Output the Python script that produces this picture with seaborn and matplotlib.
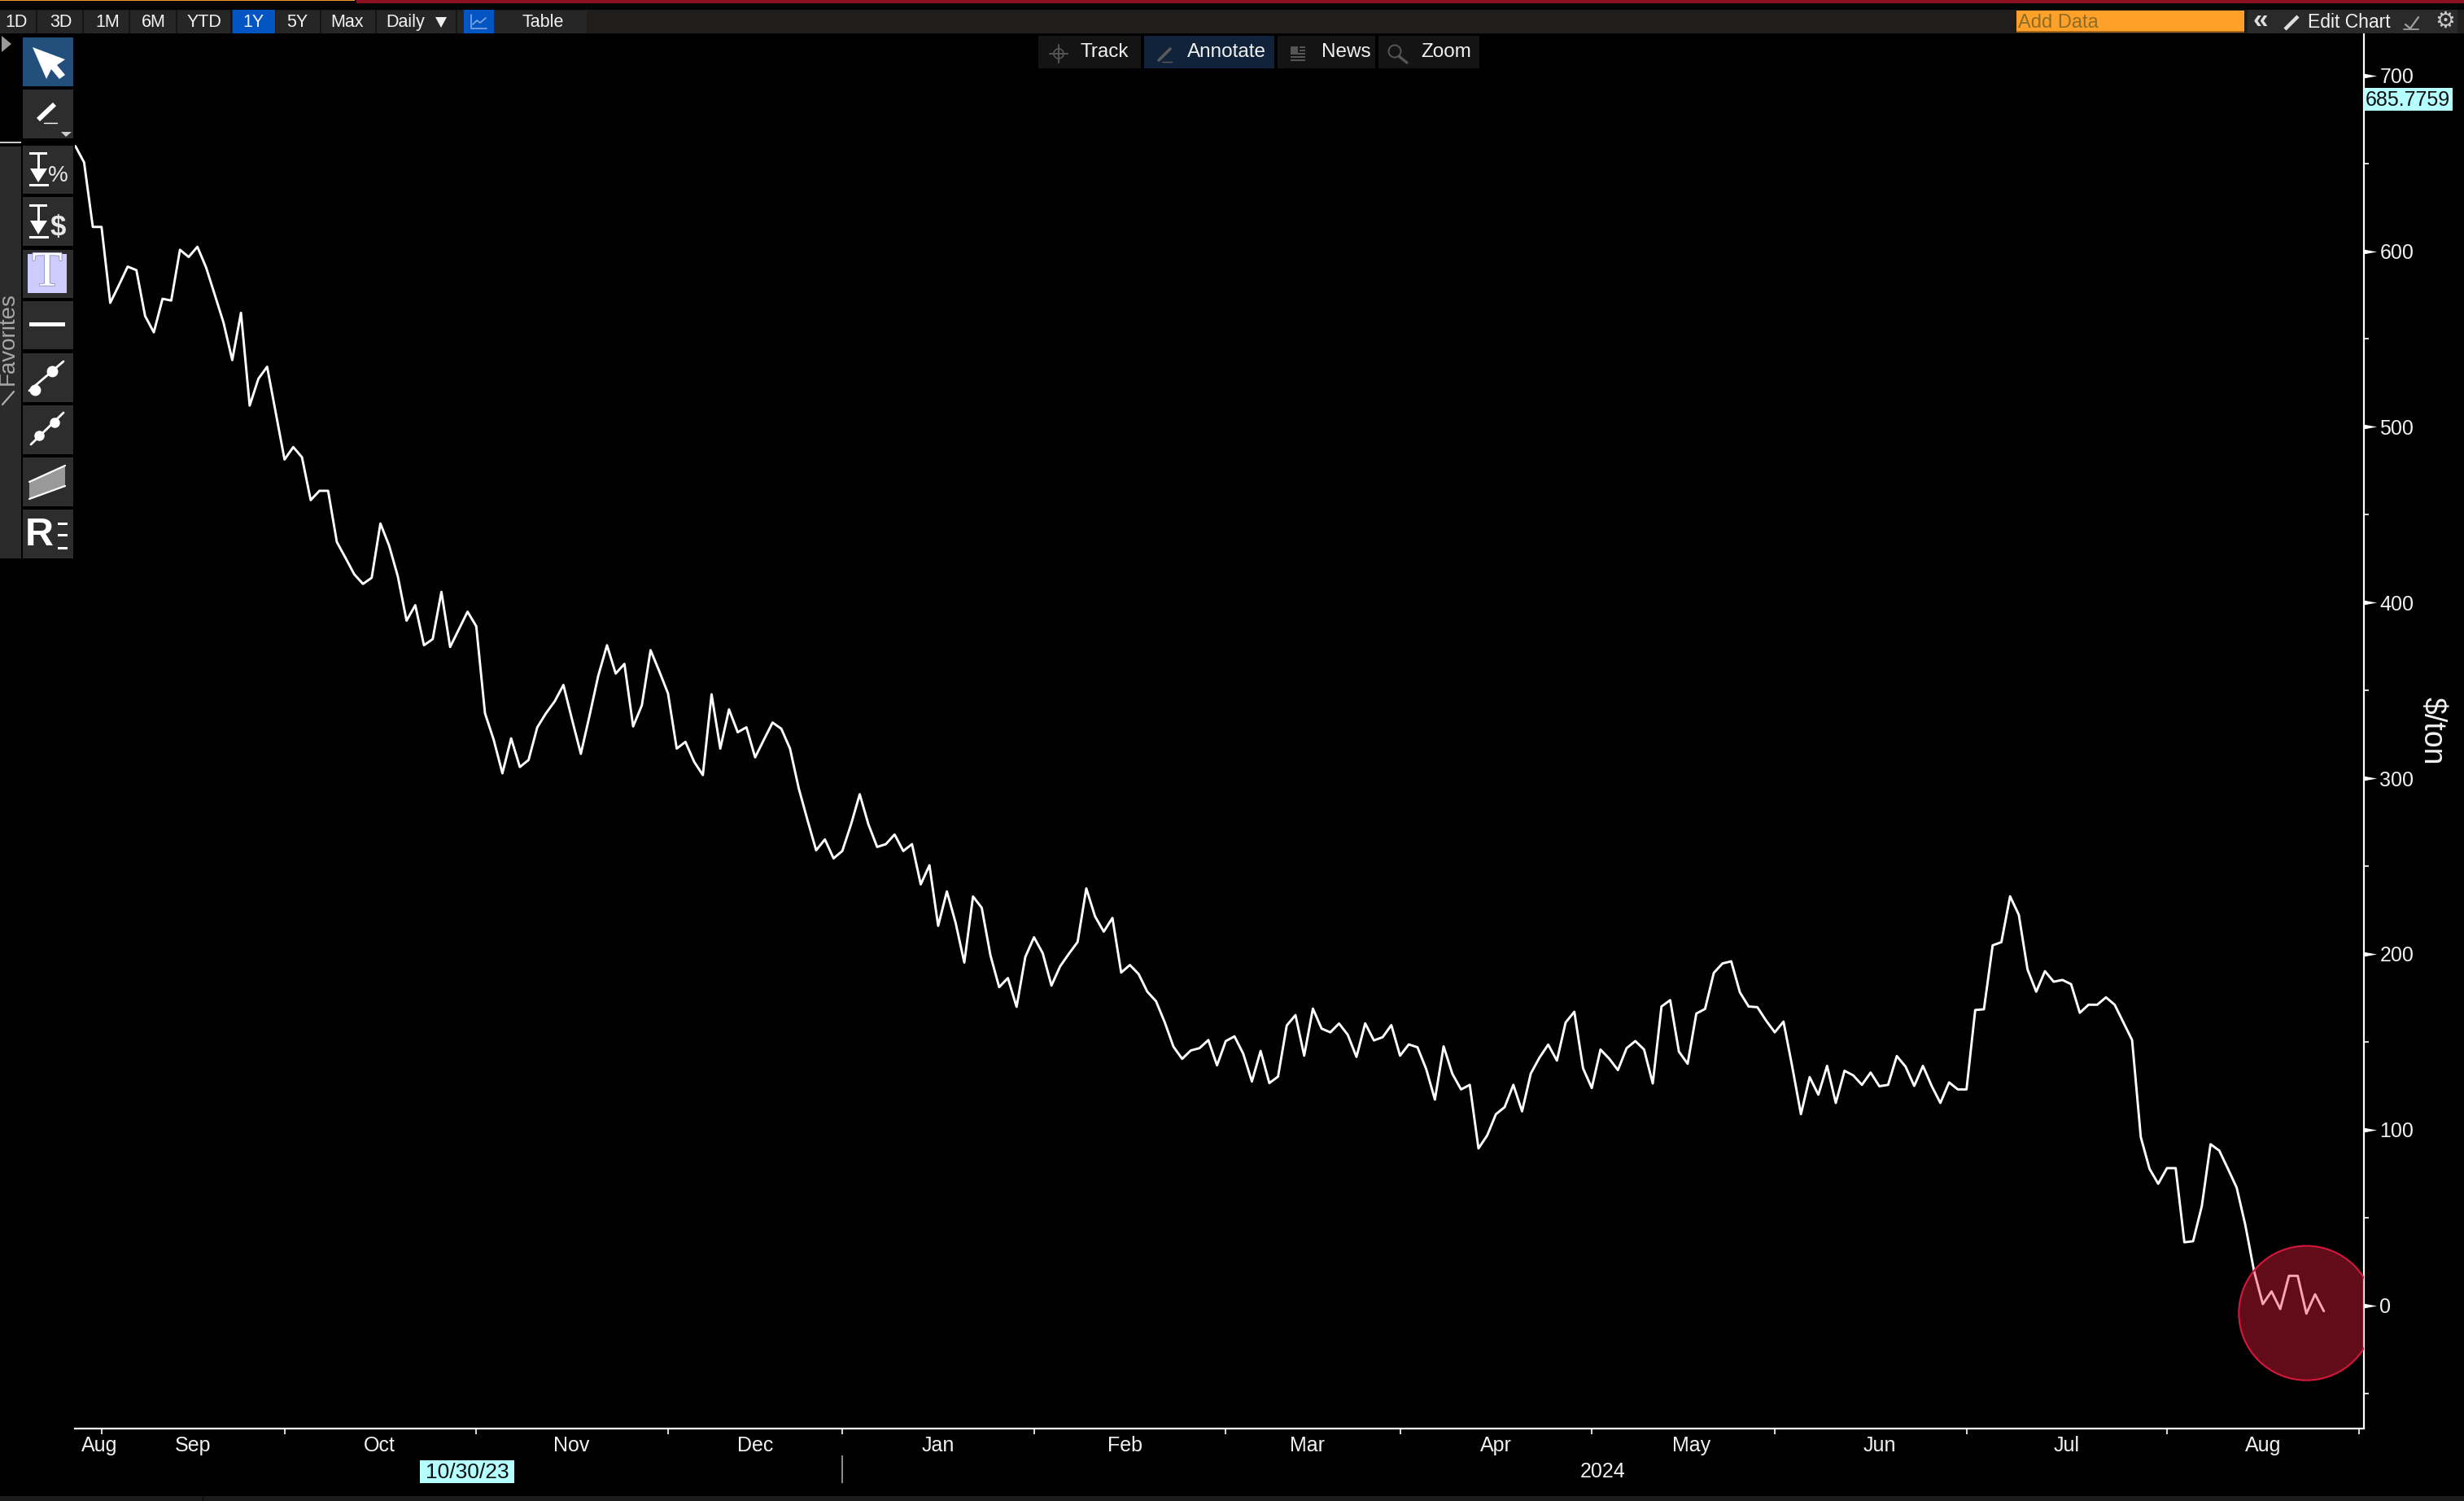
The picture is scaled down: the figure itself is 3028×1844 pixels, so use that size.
import matplotlib
matplotlib.use("Agg")

import matplotlib.patheffects as pe
import matplotlib.pyplot as plt
from matplotlib.patches import Ellipse, Polygon, Rectangle
from matplotlib.ticker import FixedLocator, MultipleLocator
import numpy as np
import pandas as pd
import seaborn as sns

# spread in $/ton, one value per trading day
spread_2023 = [
    659.8, 650.5, 613.8, 613.8, 570.6, 580.7, 591.2, 589.2, 563.1, 553.8,
    572.9, 571.9, 600.8, 596.7, 602.5, 590.7, 575.1, 559.3, 538.0, 564.9,
    512.1, 527.4, 534.2, 507.8, 481.4, 488.5, 482.7, 458.3, 463.6, 463.6,
    434.5, 425.4, 416.1, 410.6, 414.1, 445.0, 432.4, 414.9, 389.7, 398.5,
    375.7, 379.2, 406.1, 374.7, 384.7, 394.8, 386.5, 337.0, 321.9, 302.8,
    322.7, 306.4, 310.4, 329.0, 337.0, 343.8, 353.1, 333.2, 313.9, 335.7,
    358.4, 375.7, 359.6, 365.1, 329.5, 341.5, 372.9, 360.9, 348.3, 316.9,
    320.7, 309.4, 301.8, 347.8, 316.9, 339.2, 326.2, 329.0, 311.9, 321.9,
    331.7, 328.2, 316.9, 294.3, 276.3, 259.0, 265.2, 254.4,
]
spread_2024_h1 = [
    258.6, 273.7, 290.9, 273.7, 260.9, 262.5, 268.0, 258.6, 262.5, 239.6,
    250.5, 216.0, 235.6, 217.8, 195.1, 232.7, 226.3, 199.2, 181.1, 186.3,
    169.9, 198.3, 209.5, 200.4, 182.0, 193.0, 200.1, 206.8, 237.3, 221.4,
    212.7, 220.5, 189.4, 193.7, 188.6, 178.5, 173.1, 161.1, 147.2, 140.3,
    145.1, 146.4, 151.0, 136.6, 150.4, 153.1, 143.3, 127.4, 144.8, 126.5,
    130.2, 159.3, 165.2, 142.1, 168.9, 157.5, 155.4, 160.4, 154.0, 141.4,
    160.5, 150.8, 152.6, 159.5, 142.1, 148.5, 146.9, 134.5, 117.1, 147.4,
    131.8, 122.9, 125.5, 89.3, 96.7, 108.8, 112.8, 125.5, 110.4, 131.9,
    141.0, 148.4, 139.3, 161.0, 167.1, 134.9, 123.7, 145.6, 140.4, 133.9,
    146.4, 150.4, 145.6, 126.3, 170.1, 173.7, 144.4, 137.5, 166.1, 168.7,
    189.2, 194.6, 195.8, 178.1, 170.1, 169.7, 162.1, 155.4, 161.5, 135.9,
    108.8, 129.9, 119.9, 136.3, 115.2, 133.5, 130.9, 125.5, 132.5, 124.7,
    125.5, 141.9, 135.9, 124.9, 136.3, 124.9, 115.2, 126.9, 122.9, 122.9,
]
spread_2024_h2 = [
    168.1, 168.5, 204.9, 206.7, 232.8, 222.3, 191.2, 178.5, 190.2, 184.2,
    185.2, 182.8, 166.5, 171.1, 171.1, 175.3, 171.1, 161.0, 151.0, 95.7,
    77.7, 69.2, 78.1, 78.1, 35.9, 36.5, 56.5, 91.7, 88.1, 77.7,
    67.0, 45.5, 19.4, 0.7, 7.9, -2.1, 16.8, 16.8, -4.7, 6.3, -3.3,
]

month_names = ["Aug", "Sep", "Oct", "Nov", "Dec", "Jan", "Feb", "Mar", "Apr", "May", "Jun", "Jul", "Aug"]
month_starts = [3, 24, 46, 68, 88, 110, 132, 152, 174, 195, 217, 240, 262]
month_centers = [2.8, 13.5, 34.9, 56.9, 78, 99, 120.4, 141.4, 163, 185.4, 207, 228.5, 251]
range_buttons = ["1D", "3D", "1M", "6M", "YTD", "1Y", "5Y", "Max"]
panel_buttons = ["Track", "Annotate", "News", "Zoom"]
last_price = "685.7759"
cursor_date = "10/30/23"

WIDTH, HEIGHT = 3028, 1844
AX_LEFT, AX_RIGHT, AX_TOP, AX_BOTTOM = 92, 2905, 42, 1754.5
TEXT = "#f2f2f2"
TAG = "#b5ffff"

sns.set_theme(style="dark", rc={"axes.facecolor": "black", "figure.facecolor": "black"})
plt.rcParams["font.family"] = ["Liberation Sans", "DejaVu Sans"]


def box(ov, x0, y0, x1, y1, color, **kwargs):
    ov.add_patch(Rectangle((x0, y0), x1 - x0, y1 - y0, facecolor=color, edgecolor="none", **kwargs))


def poly(ov, points, color="white", **kwargs):
    ov.add_patch(Polygon(points, closed=True, facecolor=color, edgecolor="none", **kwargs))


def label(ov, x, y, text, size=17, color=TEXT, ha="center", **kwargs):
    ov.text(x, y, text, fontsize=size, color=color, ha=ha, va="center", **kwargs)


def draw_chart(ax, data):
    sns.lineplot(data=data, x="day", y="spread", ax=ax, color="white", linewidth=2.1, errorbar=None)

    ax.set_xlim(-0.06, 262.6)
    ax.set_ylim(-69.9, 723.5)
    ax.set_facecolor("black")
    ax.grid(False)
    ax.spines[["left", "top"]].set_visible(False)
    ax.spines[["right", "bottom"]].set_color("white")
    ax.spines[["right", "bottom"]].set_linewidth(1.6)

    # month ticks sit on the boundaries, names sit in between
    ax.xaxis.set_major_locator(FixedLocator(month_starts))
    ax.xaxis.set_minor_locator(FixedLocator(month_centers))
    ax.set_xticklabels([], minor=False)
    ax.set_xticklabels(month_names, minor=True, fontsize=18, color=TEXT)
    ax.tick_params(axis="x", which="major", bottom=True, length=5, width=1.2, color="white")
    ax.tick_params(axis="x", which="minor", bottom=True, length=0, pad=7)

    ax.yaxis.tick_right()
    ax.yaxis.set_major_locator(MultipleLocator(100))
    ax.yaxis.set_minor_locator(MultipleLocator(50))
    ax.tick_params(axis="y", which="major", right=True, left=False, length=0, pad=14,
                   labelsize=18, labelcolor=TEXT)
    ax.tick_params(axis="y", which="minor", right=True, left=False, length=4.5, width=1.2, color="white")

    ax.set_xlabel("")
    ax.yaxis.set_label_position("right")
    ax.set_ylabel("$/ton", rotation=270, fontsize=27, color=TEXT, labelpad=29)

    # the little arrowheads Bloomberg uses for major ticks
    levels = np.arange(0, 701, 100)
    arrow = np.array([(-1, -0.36), (1, 0), (-1, 0.36)])
    ax.plot(np.full(len(levels), 1 + 7.5 / (AX_RIGHT - AX_LEFT)), levels, linestyle="none",
            marker=arrow, markersize=11, color="white", markeredgewidth=0,
            transform=ax.get_yaxis_transform(), clip_on=False)

    ax.add_patch(Ellipse((256.0, -4.4), 15.5, 76.5, facecolor=(0.98, 0.12, 0.255, 0.4),
                         edgecolor="#d5173c", linewidth=1.5, zorder=5))


def top_bars(ov):
    box(ov, 0, 0, WIDTH, 12, "#050505")
    box(ov, 0, 0, 436, 1.5, "#f59b23")
    box(ov, 438, 0, WIDTH, 4, "#8a1022")
    box(ov, 0, 12, WIDTH, 41.5, "#1f1e1c")

    box(ov, 0, 13, 721, 41, "#262626")
    for x in [45, 102, 159, 217, 284, 338, 394, 462, 561, 606]:
        box(ov, x - 1, 12, x + 1, 41.5, "#151515")
    box(ov, 286, 12, 338, 41.5, "#0455c4")
    box(ov, 570, 12, 607, 41.5, "#0455c4")
    for x, text in zip([20, 75, 132, 189, 251, 311, 365, 427], range_buttons):
        label(ov, x, 27.5, text, size=15.5)
    label(ov, 498, 27.5, "Daily", size=15.5)
    poly(ov, [(535, 21), (549, 21), (542, 34)], color="#eeeeee")
    ov.plot([579, 579, 598], [18, 35, 35], color="#7fa8e0", lw=1.2)
    ov.plot([581, 586, 590, 597], [30, 25, 28, 22], color="#7fa8e0", lw=1.2)
    label(ov, 667, 27.5, "Table", size=15.5)

    box(ov, 2478, 13, 2758, 40, "#ffa028")
    box(ov, 2478, 38.5, 2758, 40.5, "#a8681a")
    label(ov, 2480, 27.5, "Add Data", size=17, color="#8f6d24", ha="left")
    box(ov, 2762, 12, 3020, 41.5, "#2a2a2a")
    label(ov, 2778, 25, "«", size=24, color="#dddddd", fontweight="bold")
    ov.plot([2808, 2824], [36, 20], color="#dddddd", lw=3.2, solid_capstyle="butt")
    label(ov, 2836, 27, "Edit Chart", size=16.5, ha="left")
    ov.plot([2954, 2972], [36, 36], color="#a0a0a0", lw=1.3)
    ov.plot([2956, 2962, 2972], [30, 35, 21], color="#a0a0a0", lw=1.6)
    label(ov, 3005, 26, "⚙", size=20, color="#c8c8c8", family="DejaVu Sans")


def panel_bar(ov):
    cells = [(1275.5, 1402), (1406, 1566), (1570, 1690), (1694, 1818)]
    text_left = [1328, 1459, 1624, 1746]
    for i, ((x0, x1), tx, text) in enumerate(zip(cells, text_left, panel_buttons)):
        box(ov, x0, 44, x1, 84, "#10233a" if i == 1 else "#141414")
        label(ov, tx, 64.5, text, ha="left", size=17.5)

    # track crosshair
    ov.plot([1290, 1312], [66, 66], color="#555555", lw=1.4)
    ov.plot([1301, 1301], [55, 77], color="#555555", lw=1.4)
    ov.add_patch(Ellipse((1301, 66), 12, 12, facecolor="none", edgecolor="#555555", lw=1.2))
    # annotate pencil
    ov.plot([1424, 1438], [74, 60], color="#5a5a5a", lw=2.6)
    ov.plot([1428, 1440], [76, 76], color="#5a5a5a", lw=1)
    # news lines
    box(ov, 1586, 57, 1595, 65, "#555555")
    for y in [58, 62, 66, 70, 74]:
        x0 = 1597 if y < 66 else 1586
        box(ov, x0, y - 0.8, 1604, y + 0.8, "#555555")
    # zoom glass
    ov.add_patch(Ellipse((1714, 63), 15, 15, facecolor="none", edgecolor="#555555", lw=1.4))
    ov.plot([1719, 1729], [69, 77], color="#555555", lw=2.4)


def tool_strip(ov):
    box(ov, 0, 180, 26, 686, "#2b2b2b")
    box(ov, 0, 174, 26, 176, "#c8c8c8")
    poly(ov, [(2, 44), (14, 54), (2, 64)], color="#999999")
    ov.text(10, 416, "Favorites", fontsize=20, color="#a8a8a8", rotation=90, ha="center", va="center")
    ov.plot([3, 17], [497, 481], color="#b0b0b0", lw=1.6)

    cell_edges = [(46, 106), (110, 170), (179, 238), (242, 302), (307, 366),
                  (370, 429), (434, 494), (498, 558), (562, 622), (626, 686)]
    for i, (y0, y1) in enumerate(cell_edges):
        box(ov, 28, y0, 90, y1, "#234f7d" if i == 0 else "#2d2d2d")

    poly(ov, [(40, 58), (80, 73), (70, 80), (80, 92), (73, 97), (63, 85), (57, 97)])
    ov.plot([47, 67], [147, 128], color="white", lw=4.2, solid_capstyle="butt")
    ov.plot([54, 70], [151, 151], color="white", lw=1)
    poly(ov, [(75, 162), (88, 162), (81, 168)], color="#cccccc")

    for offset, sign, size in [(0, "%", 20), (64, "$", 25)]:
        box(ov, 36, 187 + offset, 58, 190 + offset, "white")
        box(ov, 45.5, 188 + offset, 48.5, 210 + offset, "white")
        poly(ov, [(37, 207 + offset), (58, 207 + offset), (47, 224 + offset)])
        box(ov, 36, 226 + offset, 60, 229 + offset, "white")
        label(ov, 71, 216 + offset, sign, size=size, color="#e8e8e8",
              fontweight="normal" if sign == "%" else "bold")

    box(ov, 34, 312, 82, 360, "#ccccff")
    ov.text(58, 336, "T", fontsize=44, color="white", ha="center", va="center", family="Liberation Serif",
            path_effects=[pe.withStroke(linewidth=1.2, foreground="#8f8fb8")])

    box(ov, 36, 396, 80, 401, "white")

    ov.plot([36, 78], [480, 444], color="white", lw=2)
    ov.plot([43, 64], [479, 456], linestyle="none", marker="o", markersize=9, color="white")
    ov.plot([38, 78], [546, 507], color="white", lw=2)
    ov.plot([48, 67], [535, 519], linestyle="none", marker="o", markersize=8, color="white")

    poly(ov, [(36, 592), (80, 572), (80, 597), (36, 613)], color="#999999")
    ov.plot([36, 80], [592, 572], color="white", lw=1.6)
    ov.plot([36, 80], [613, 597], color="white", lw=1.6)

    label(ov, 48, 657, "R", size=35, color="white", fontweight="bold")
    for y in [643, 657, 673]:
        box(ov, 71, y - 1.5, 83, y + 1.5, "white")


def bottom_bars(ov):
    box(ov, 0, 1838, WIDTH, HEIGHT, "#1c1c1c")
    box(ov, 248.5, 1838, 250, HEIGHT, "#050505")
    box(ov, 516, 1794, 632, 1822, TAG)
    label(ov, 574, 1809, cursor_date, size=19, color="#101010")
    box(ov, 1034, 1788, 1035.5, 1822, "#8a8a8a")
    label(ov, 1970, 1807.5, "2024", size=18)


def main():
    values = spread_2023 + spread_2024_h1 + spread_2024_h2
    data = pd.DataFrame({"day": np.arange(len(values)), "spread": values})

    fig = plt.figure(figsize=(WIDTH / 100, HEIGHT / 100), dpi=100, facecolor="black")
    ax = fig.add_axes([
        AX_LEFT / WIDTH,
        1 - AX_BOTTOM / HEIGHT,
        (AX_RIGHT - AX_LEFT) / WIDTH,
        (AX_BOTTOM - AX_TOP) / HEIGHT,
    ])
    draw_chart(ax, data)

    # terminal chrome drawn in pixel coordinates on top of the chart
    ov = fig.add_axes([0, 0, 1, 1], zorder=10)
    ov.set_xlim(0, WIDTH)
    ov.set_ylim(HEIGHT, 0)
    ov.axis("off")
    ov.patch.set_alpha(0)

    top_bars(ov)
    panel_bar(ov)
    tool_strip(ov)
    bottom_bars(ov)
    box(ov, 2905, 108, 3013.5, 136, TAG)
    label(ov, 2959, 122.5, last_price, size=18, color="#101010")

    fig.savefig("out.png", dpi=100, facecolor="black")


if __name__ == "__main__":
    main()
